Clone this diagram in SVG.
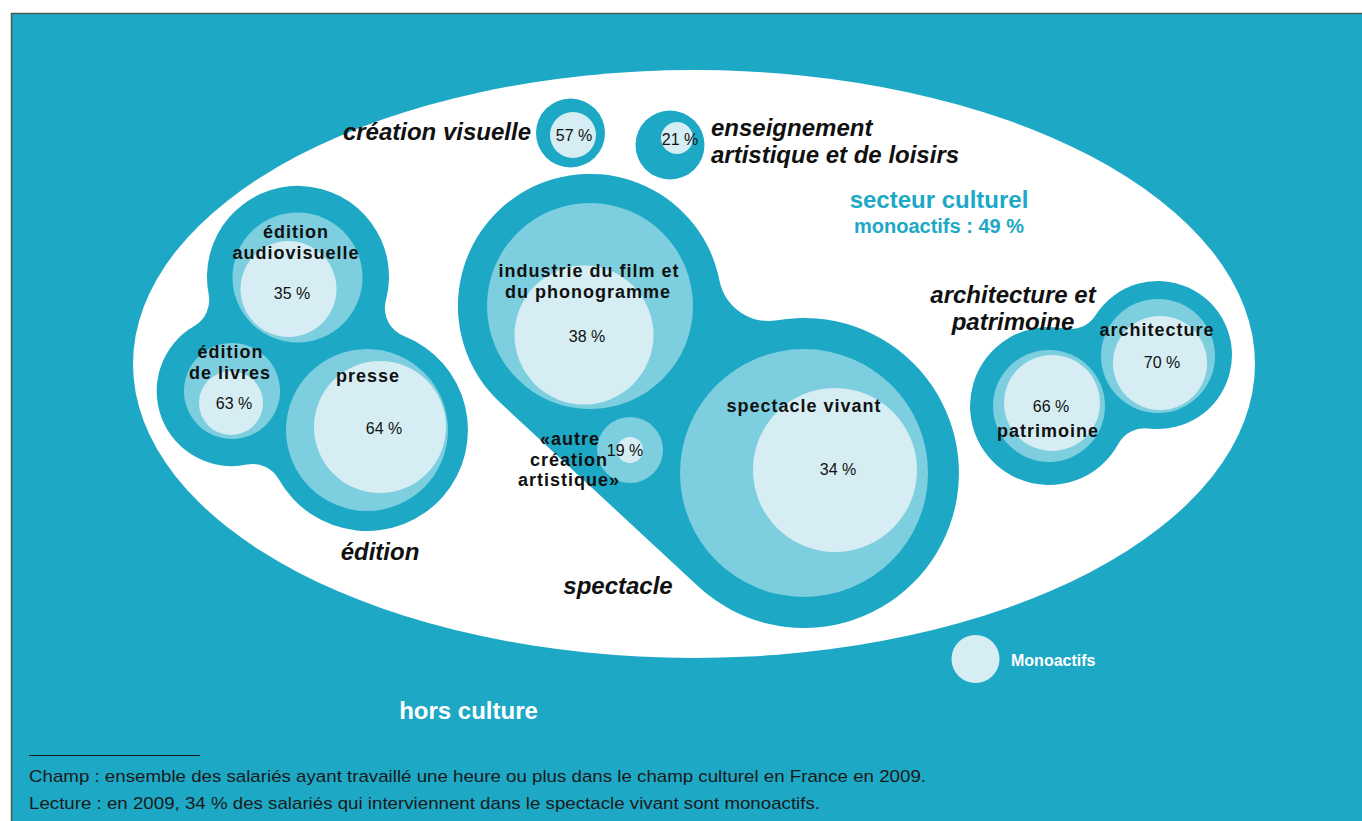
<svg xmlns="http://www.w3.org/2000/svg" width="1362" height="821" viewBox="0 0 1362 821">
<style>
.bg{fill:#1da8c6}
.dark{fill:#1da8c6}
.mid{fill:#7dcfdf}
.light{fill:#d6eef3}
text{font-family:"Liberation Sans",Arial,Helvetica,sans-serif}
.lbl{font-weight:bold;font-size:18px;letter-spacing:1px;fill:#111;text-anchor:middle}
.pct{font-size:16px;fill:#111;text-anchor:middle}
.grp{font-weight:bold;font-style:italic;font-size:24px;fill:#111}
.sect{font-weight:bold;fill:#1da8c6;text-anchor:middle}
.white{font-weight:bold;fill:#fff}
.foot{font-size:17px;fill:#1a1a1a}
</style>
<rect x="0" y="0" width="1362" height="821" fill="#fff"/>
<rect x="11.5" y="13.5" width="1400" height="900" class="bg" stroke="#4d5a5f" stroke-width="1.5"/>
<ellipse cx="694" cy="364" rx="561" ry="294" fill="#fff"/>

<g id="secteur-culturel">
<text class="sect" x="939" y="208" font-size="24">secteur culturel</text>
<text class="sect" x="939" y="233" font-size="20">monoactifs : 49 %</text>
</g>

<g id="creation-visuelle">
<circle class="dark" cx="570.5" cy="133" r="34.5"/>
<circle class="light" cx="573" cy="135" r="23"/>
<text class="pct" x="574" y="141">57 %</text>
<text class="grp" x="531" y="140" text-anchor="end">création visuelle</text>
</g>

<g id="enseignement">
<circle class="dark" cx="670" cy="145" r="34.5"/>
<circle class="light" cx="677" cy="138" r="16"/>
<text class="pct" x="680" y="145">21 %</text>
<text class="grp"><tspan x="711" y="136">enseignement</tspan><tspan x="711" y="163">artistique et de loisirs</tspan></text>
</g>

<g id="edition">
<path class="dark" d="M385.9,300.4 A91,91 0 1 0 208.7,294.4 A30,30 0 0 1 194.3,326.1 A75,75 0 0 0 246.7,464.6 A30,30 0 0 1 278.8,479.3 A101,101 0 1 0 403.9,336 A30,30 0 0 1 385.9,300.4 Z"/>
<text class="grp" x="380" y="560" text-anchor="middle">édition</text>
</g>
<g id="edition-audiovisuelle">
<circle class="mid" cx="297.5" cy="277.5" r="65"/>
<circle class="light" cx="288.5" cy="289" r="48"/>
<text class="lbl"><tspan x="296" y="238">édition</tspan><tspan x="296" y="258.5">audiovisuelle</tspan></text>
<text class="pct" x="292" y="299">35 %</text>
</g>
<g id="edition-livres">
<circle class="mid" cx="232" cy="391" r="48"/>
<circle class="light" cx="231" cy="403" r="32"/>
<text class="lbl"><tspan x="230.5" y="358">édition</tspan><tspan x="230" y="378.5">de livres</tspan></text>
<text class="pct" x="234" y="409">63 %</text>
</g>
<g id="presse">
<circle class="mid" cx="367" cy="430" r="81"/>
<circle class="light" cx="380" cy="427" r="66"/>
<text class="lbl" x="368" y="382">presse</text>
<text class="pct" x="384" y="434">64 %</text>
</g>

<g id="spectacle">
<path class="dark" d="M719.5,280.7 A132,132 0 1 0 500.3,402.8 L698.6,586.7 A155,155 0 1 0 777.2,320.3 A50,50 0 0 1 719.5,280.7 Z"/>
<text class="grp" x="618" y="594" text-anchor="middle">spectacle</text>
</g>
<g id="industrie-film">
<circle class="mid" cx="590" cy="306" r="103"/>
<circle class="light" cx="584" cy="335" r="69.5"/>
<text class="lbl"><tspan x="589" y="277">industrie du film et</tspan><tspan x="588" y="297.5">du phonogramme</tspan></text>
<text class="pct" x="587" y="342">38 %</text>
</g>
<g id="spectacle-vivant">
<circle class="mid" cx="804" cy="473" r="124"/>
<circle class="light" cx="835" cy="470" r="82"/>
<text class="lbl" x="804" y="412">spectacle vivant</text>
<text class="pct" x="838" y="475">34 %</text>
</g>
<g id="autre-creation">
<circle class="mid" cx="630" cy="450" r="33"/>
<circle class="light" cx="630" cy="450" r="13"/>
<text class="pct" x="625" y="456">19 %</text>
<text class="lbl"><tspan x="570" y="445">«autre</tspan><tspan x="569" y="465.5">création</tspan><tspan x="569" y="486">artistique»</tspan></text>
</g>

<g id="architecture-patrimoine">
<path class="dark" d="M1064.4,328.5 A79,79 0 1 0 1118.4,443.8 A30,30 0 0 1 1148.5,428.4 A74,74 0 1 0 1095.6,315.2 A30,30 0 0 1 1064.4,328.5 Z"/>
<text class="grp" text-anchor="middle"><tspan x="1013" y="303">architecture et</tspan><tspan x="1013" y="330">patrimoine</tspan></text>
</g>
<g id="patrimoine">
<circle class="mid" cx="1049" cy="406" r="56"/>
<circle class="light" cx="1052" cy="403" r="48"/>
<text class="pct" x="1051" y="412">66 %</text>
<text class="lbl" x="1048" y="437">patrimoine</text>
</g>
<g id="architecture">
<circle class="mid" cx="1158" cy="356" r="57"/>
<circle class="light" cx="1160" cy="363" r="47"/>
<text class="lbl" x="1157" y="336">architecture</text>
<text class="pct" x="1162" y="368">70 %</text>
</g>

<g id="legende">
<circle class="light" cx="975.5" cy="659" r="24"/>
<text class="white" x="1011" y="666" font-size="16">Monoactifs</text>
</g>

<g id="hors-culture">
<text class="white" x="468.5" y="719" font-size="24" text-anchor="middle">hors culture</text>
</g>

<g id="notes">
<line x1="29" y1="755.5" x2="200" y2="755.5" stroke="#1a1a1a" stroke-width="1"/>
<text class="foot" x="29" y="782" textLength="897" lengthAdjust="spacingAndGlyphs">Champ : ensemble des salariés ayant travaillé une heure ou plus dans le champ culturel en France en 2009.</text>
<text class="foot" x="29" y="809" textLength="791" lengthAdjust="spacingAndGlyphs">Lecture : en 2009, 34 % des salariés qui interviennent dans le spectacle vivant sont monoactifs.</text>
</g>
</svg>
